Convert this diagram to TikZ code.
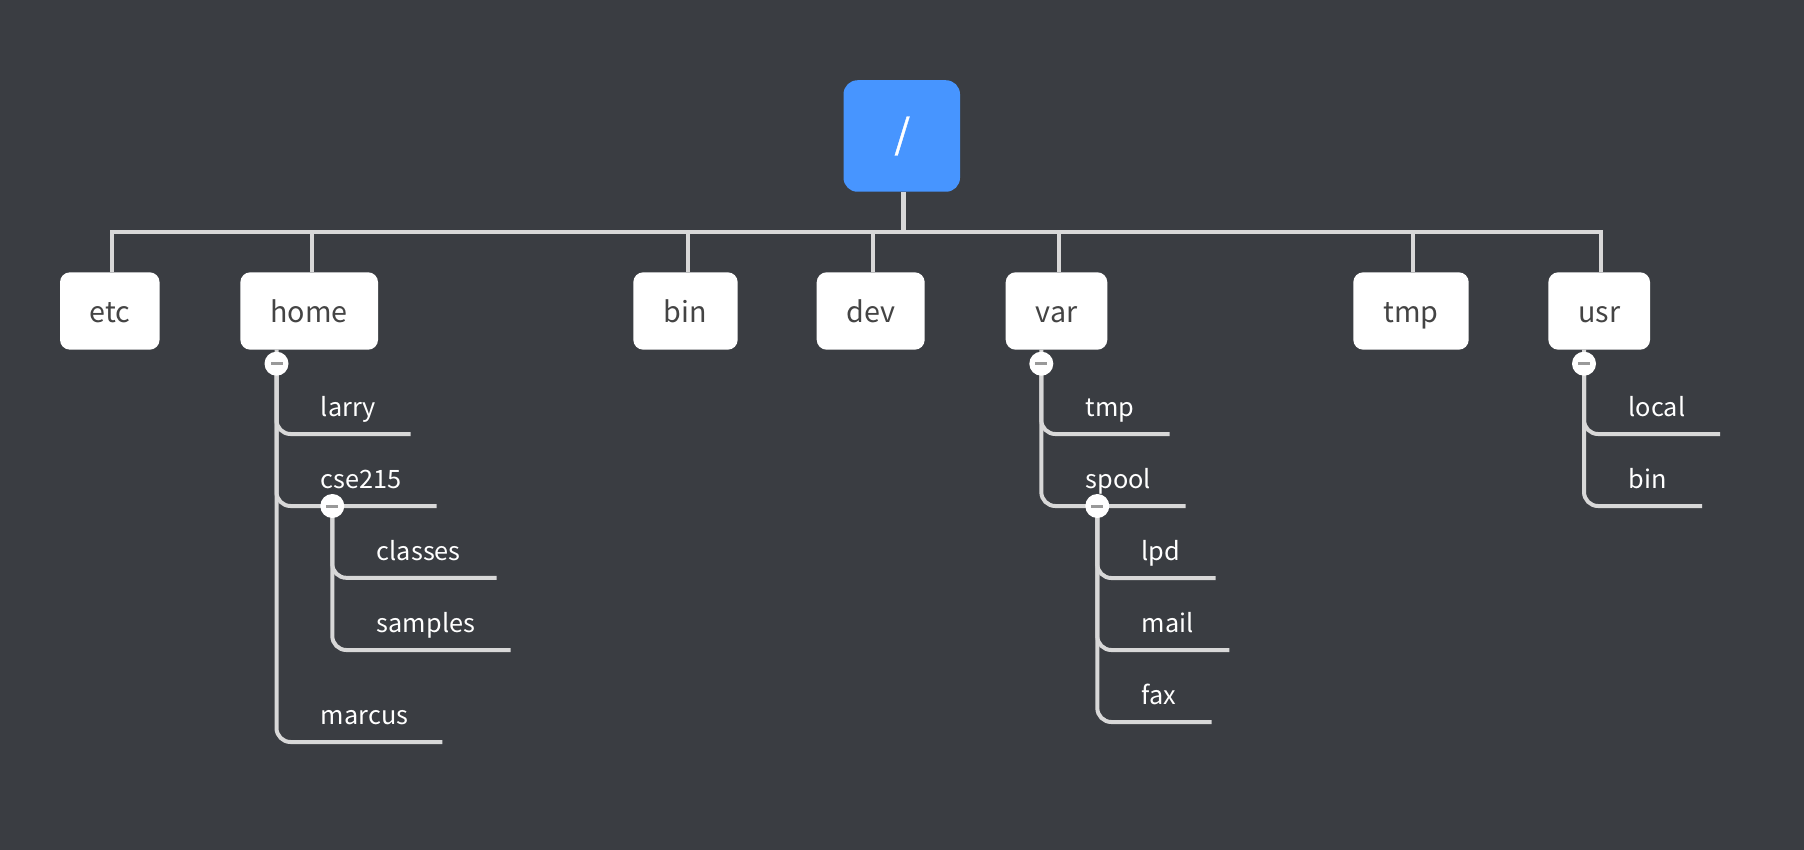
\documentclass[tikz,border=0pt]{standalone}
\usepackage{fontspec}
\setmainfont{Noto Sans CJK SC}
\newfontfamily\slashfont[FakeBold=1]{Noto Sans CJK SC}
\usepackage{xcolor}
\usetikzlibrary{calc,positioning}
\definecolor{slate}{HTML}{3A3D42}
\definecolor{rootblue}{HTML}{4795FF}
\definecolor{wire}{HTML}{D8D8D8}
\definecolor{boxtext}{HTML}{444444}
\definecolor{knobdash}{HTML}{999999}
\tikzset{
    dirbox/.style={fill=white,text=boxtext,rounded corners=10pt,inner sep=0pt,text height=30pt,text depth=6.8pt,font=\fontsize{28.7}{30}\selectfont},
    leaf/.style={text=white,anchor=base west,inner sep=0pt,font=\fontsize{25.3}{26}\selectfont},
    trunk/.style={draw=wire,line width=4pt,miter limit=10},
    branch/.style={draw=wire,line width=4pt,rounded corners=14pt},
    knob/.style={circle,fill=white,minimum size=24pt,inner sep=0pt}
}
\newcommand{\minusbar}[1]{\fill[knobdash] ($(#1)+(-6,-1.5)$) rectangle ($(#1)+(6,1.5)$);}
\begin{document}
\begin{tikzpicture}[x=1pt,y=-1pt]
    \useasboundingbox (0,0) rectangle (1804,850);
    \fill[slate] (0,0) rectangle (1804,850);
    % top level
    \node[fill=rootblue,text=white,rounded corners=14pt,inner sep=0pt,minimum width=116.5pt,minimum height=111.5pt,font=\slashfont\fontsize{40}{40}\selectfont] (root) at (901.75,136) {\hspace{1pt}/};
    \foreach \nm/\cx/\bw/\lab in {etc/109.8/99.6/etc,home/309.2/137.7/home,bin/685.5/104.4/bin,dev/870.7/108/dev,var/1056.5/101.6/var,tmp/1411/115.4/tmp,usr/1599.2/101.7/usr}{
        \node[dirbox,minimum width=\bw pt,minimum height=77.4pt] (\nm) at (\cx,311) {\lab};
    }
    % bus
    \coordinate (busRoot) at (903.3,232);
    \coordinate (busEtc) at (112.1,232);
    \coordinate (busHome) at (311.5,232);
    \coordinate (busBin) at (687.7,232);
    \coordinate (busDev) at (872.7,232);
    \coordinate (busVar) at (1058.7,232);
    \coordinate (busTmp) at (1413,232);
    \coordinate (busUsr) at (1601,232);
    \draw[trunk] (busEtc |- etc.north) -- (busEtc) -- (busUsr) -- (busUsr |- usr.north);
    \draw[trunk,line width=5pt] (busRoot |- root.south) -- (busRoot);
    \foreach \nm/\bs in {home/busHome,bin/busBin,dev/busDev,var/busVar,tmp/busTmp}{
        \draw[trunk] (\bs) -- (\bs |- \nm.north);
    }
    % knobs
    \coordinate (homeKnobPos) at (276.5,363.7);
    \coordinate (cseKnobPos) at (332.3,506);
    \coordinate (varKnobPos) at (1041.3,363.7);
    \coordinate (spoolKnobPos) at (1097.3,506);
    \coordinate (usrKnobPos) at (1584,363.7);
    % leaves
    \node[leaf] (larry) at (320.7,416.7) {larry};
    \node[leaf] (cse) at (320.7,488.3) {cse215};
    \node[leaf] (marcus) at (320.7,724) {marcus};
    \node[leaf] (classes) at (376.7,560.3) {classes};
    \node[leaf] (samples) at (376.7,632.5) {samples};
    \node[leaf] (vtmp) at (1085.5,416.3) {tmp};
    \node[leaf] (spool) at (1085.5,488) {spool};
    \node[leaf] (lpd) at (1141.5,560.3) {lpd};
    \node[leaf] (mail) at (1141.5,632.5) {mail};
    \node[leaf] (fax) at (1141.5,704) {fax};
    \node[leaf] (local) at (1628.5,416.3) {local};
    \node[leaf] (ubin) at (1628.5,488) {bin};
    % branches
    \draw[branch] (homeKnobPos |- home.south) -- (homeKnobPos) |- (410.6,434);
    \draw[branch] (homeKnobPos) |- (436.7,506);
    \draw[branch] (homeKnobPos) |- (442.3,742);
    \draw[branch] (cseKnobPos) |- (496.7,577.8);
    \draw[branch] (cseKnobPos) |- (510.7,650);
    \draw[branch] (varKnobPos |- var.south) -- (varKnobPos) |- (1169.7,434);
    \draw[branch] (varKnobPos) |- (1185.7,506);
    \draw[branch] (spoolKnobPos) |- (1215.7,578);
    \draw[branch] (spoolKnobPos) |- (1229.3,650);
    \draw[branch] (spoolKnobPos) |- (1211.7,722);
    \draw[branch] (usrKnobPos |- usr.south) -- (usrKnobPos) |- (1720,434);
    \draw[branch] (usrKnobPos) |- (1702,506);
    \foreach \nm in {homeKnob,cseKnob,varKnob,spoolKnob,usrKnob}{
        \node[knob] (\nm) at (\nm Pos) {};
        \minusbar{\nm}
    }
\end{tikzpicture}
\end{document}
